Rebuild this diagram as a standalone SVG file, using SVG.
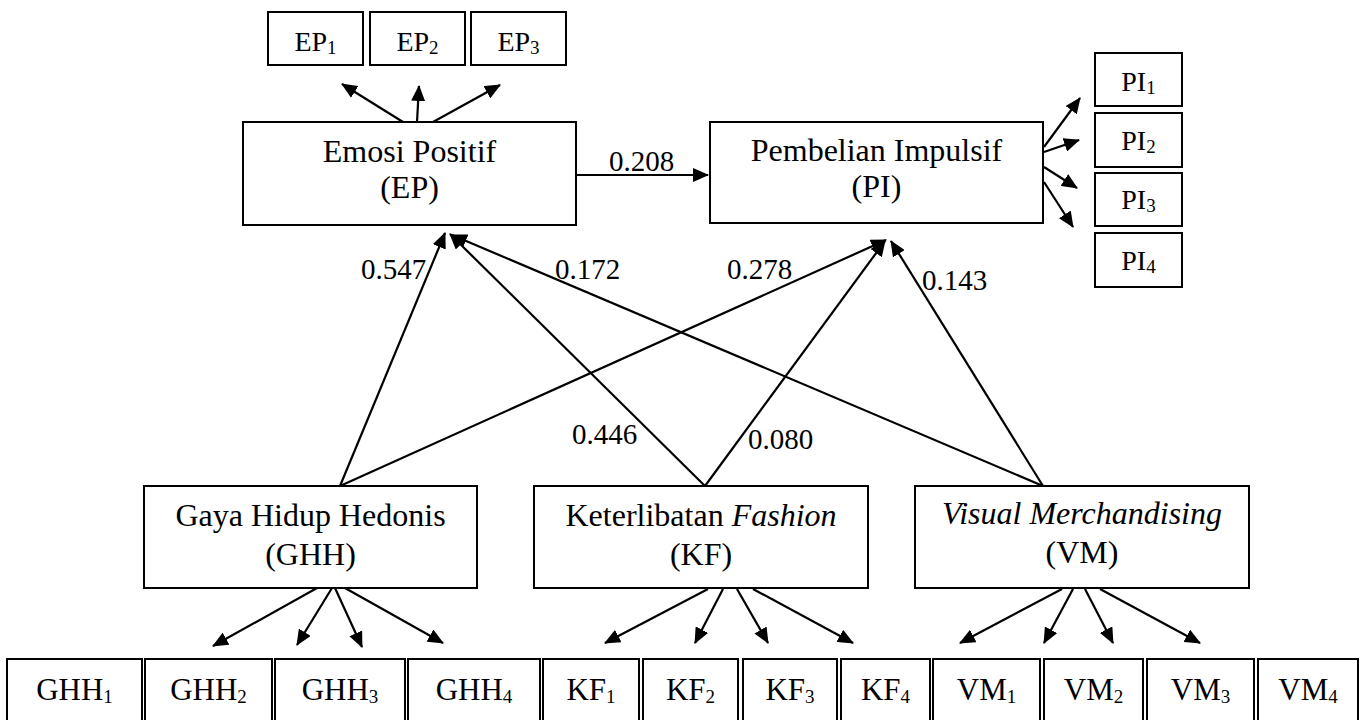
<svg xmlns="http://www.w3.org/2000/svg" width="1361" height="720" viewBox="0 0 1361 720">
<style>
.box{fill:#fff;stroke:#000;stroke-width:2}
.t{font-family:"Liberation Serif","Times New Roman",serif;fill:#000;text-anchor:middle}
.big{font-size:32px}
.ind{font-size:28px}
.bot{font-size:31px}
.lbl{font-family:"Liberation Serif","Times New Roman",serif;font-size:29px;fill:#000}
.sub{font-size:19px}
.c{fill:none;stroke:#000;stroke-width:2.2;marker-end:url(#ah)}
</style>
<defs>
<marker id="ah" markerUnits="userSpaceOnUse" markerWidth="16" markerHeight="14" refX="15" refY="7" orient="auto">
<path d="M0,0 L16,7 L0,14 z" fill="#000"/>
</marker>
</defs>
<rect width="1361" height="720" fill="#fff"/>

<g id="connectors">
<line class="c" x1="403" y1="122" x2="342" y2="84"/>
<line class="c" x1="417" y1="122" x2="419" y2="86"/>
<line class="c" x1="433" y1="122" x2="500" y2="85"/>
<line class="c" x1="576" y1="175" x2="708" y2="175"/>
<line class="c" x1="1044" y1="147" x2="1080" y2="98"/>
<line class="c" x1="1044" y1="152" x2="1079" y2="140"/>
<line class="c" x1="1044" y1="167" x2="1077" y2="188"/>
<line class="c" x1="1044" y1="182" x2="1073" y2="227"/>
<line class="c" x1="340" y1="486" x2="445" y2="233"/>
<line class="c" x1="340" y1="486" x2="886" y2="240"/>
<line class="c" x1="705" y1="486" x2="450" y2="234"/>
<line class="c" x1="705" y1="486" x2="885" y2="241"/>
<line class="c" x1="1043" y1="486" x2="452" y2="235"/>
<line class="c" x1="1043" y1="486" x2="891" y2="241"/>
<line class="c" x1="317" y1="588" x2="213" y2="646"/>
<line class="c" x1="332" y1="588" x2="297" y2="645"/>
<line class="c" x1="335" y1="588" x2="362" y2="647"/>
<line class="c" x1="345" y1="588" x2="443" y2="643"/>
<line class="c" x1="708" y1="589" x2="605" y2="643"/>
<line class="c" x1="723" y1="589" x2="695" y2="643"/>
<line class="c" x1="737" y1="589" x2="768" y2="643"/>
<line class="c" x1="753" y1="589" x2="853" y2="643"/>
<line class="c" x1="1062" y1="589" x2="960" y2="643"/>
<line class="c" x1="1073" y1="589" x2="1044" y2="643"/>
<line class="c" x1="1085" y1="589" x2="1113" y2="643"/>
<line class="c" x1="1100" y1="589" x2="1200" y2="643"/>
<text class="lbl" x="609" y="171">0.208</text>
<text class="lbl" x="361" y="279">0.547</text>
<text class="lbl" x="555" y="279">0.172</text>
<text class="lbl" x="727" y="279">0.278</text>
<text class="lbl" x="922" y="290">0.143</text>
<text class="lbl" x="572" y="444">0.446</text>
<text class="lbl" x="748" y="449">0.080</text>
</g>

<g id="EP"><rect class="box" x="243" y="122" width="333" height="103"/>
<text class="t big" x="409.5" y="162">Emosi Positif</text><text class="t big" x="409.5" y="198">(EP)</text></g>
<g id="PI"><rect class="box" x="710" y="122" width="333" height="101"/>
<text class="t big" x="876.5" y="161">Pembelian Impulsif</text><text class="t big" x="876.5" y="197">(PI)</text></g>
<g id="GHH"><rect class="box" x="144" y="486" width="333" height="102"/>
<text class="t big" x="310.5" y="526">Gaya Hidup Hedonis</text><text class="t big" x="310.5" y="565">(GHH)</text></g>
<g id="KF"><rect class="box" x="534" y="486" width="334" height="102"/>
<text class="t big" x="701" y="526">Keterlibatan <tspan font-style="italic">Fashion</tspan></text><text class="t big" x="701" y="565">(KF)</text></g>
<g id="VM"><rect class="box" x="915" y="486" width="334" height="102"/>
<text class="t big" x="1082" y="524" font-style="italic" font-size="31">Visual Merchandising</text><text class="t big" x="1082" y="563">(VM)</text></g>

<g id="EP1"><rect class="box" x="268" y="12" width="95" height="53"/><text class="t ind" x="315.5" y="51">EP<tspan class="sub" dy="3">1</tspan></text></g>
<g id="EP2"><rect class="box" x="370" y="12" width="95" height="53"/><text class="t ind" x="417.5" y="51">EP<tspan class="sub" dy="3">2</tspan></text></g>
<g id="EP3"><rect class="box" x="471" y="12" width="95" height="53"/><text class="t ind" x="518.5" y="51">EP<tspan class="sub" dy="3">3</tspan></text></g>

<g id="PI1"><rect class="box" x="1095" y="53" width="87" height="53"/><text class="t ind" x="1138.5" y="91">PI<tspan class="sub" dy="3">1</tspan></text></g>
<g id="PI2"><rect class="box" x="1095" y="113" width="87" height="54"/><text class="t ind" x="1138.5" y="150">PI<tspan class="sub" dy="3">2</tspan></text></g>
<g id="PI3"><rect class="box" x="1095" y="173" width="87" height="53"/><text class="t ind" x="1138.5" y="209">PI<tspan class="sub" dy="3">3</tspan></text></g>
<g id="PI4"><rect class="box" x="1095" y="233" width="87" height="54"/><text class="t ind" x="1138.5" y="270">PI<tspan class="sub" dy="3">4</tspan></text></g>

<g id="GHH1"><rect class="box" x="7" y="659" width="135" height="70"/><text class="t bot" x="74.5" y="700">GHH<tspan class="sub" dy="3">1</tspan></text></g>
<g id="GHH2"><rect class="box" x="145" y="659" width="127" height="70"/><text class="t bot" x="208.5" y="700">GHH<tspan class="sub" dy="3">2</tspan></text></g>
<g id="GHH3"><rect class="box" x="275" y="659" width="130" height="70"/><text class="t bot" x="340" y="700">GHH<tspan class="sub" dy="3">3</tspan></text></g>
<g id="GHH4"><rect class="box" x="408" y="659" width="132" height="70"/><text class="t bot" x="474" y="700">GHH<tspan class="sub" dy="3">4</tspan></text></g>
<g id="KF1"><rect class="box" x="543" y="659" width="96" height="70"/><text class="t bot" x="591" y="700">KF<tspan class="sub" dy="3">1</tspan></text></g>
<g id="KF2"><rect class="box" x="643" y="659" width="95" height="70"/><text class="t bot" x="690.5" y="700">KF<tspan class="sub" dy="3">2</tspan></text></g>
<g id="KF3"><rect class="box" x="743" y="659" width="94" height="70"/><text class="t bot" x="790" y="700">KF<tspan class="sub" dy="3">3</tspan></text></g>
<g id="KF4"><rect class="box" x="841" y="659" width="89" height="70"/><text class="t bot" x="885.5" y="700">KF<tspan class="sub" dy="3">4</tspan></text></g>
<g id="VM1"><rect class="box" x="933" y="659" width="107" height="70"/><text class="t bot" x="986.5" y="700">VM<tspan class="sub" dy="3">1</tspan></text></g>
<g id="VM2"><rect class="box" x="1044" y="659" width="99" height="70"/><text class="t bot" x="1093.5" y="700">VM<tspan class="sub" dy="3">2</tspan></text></g>
<g id="VM3"><rect class="box" x="1147" y="659" width="107" height="70"/><text class="t bot" x="1200.5" y="700">VM<tspan class="sub" dy="3">3</tspan></text></g>
<g id="VM4"><rect class="box" x="1258" y="659" width="100" height="70"/><text class="t bot" x="1308" y="700">VM<tspan class="sub" dy="3">4</tspan></text></g>
</svg>
